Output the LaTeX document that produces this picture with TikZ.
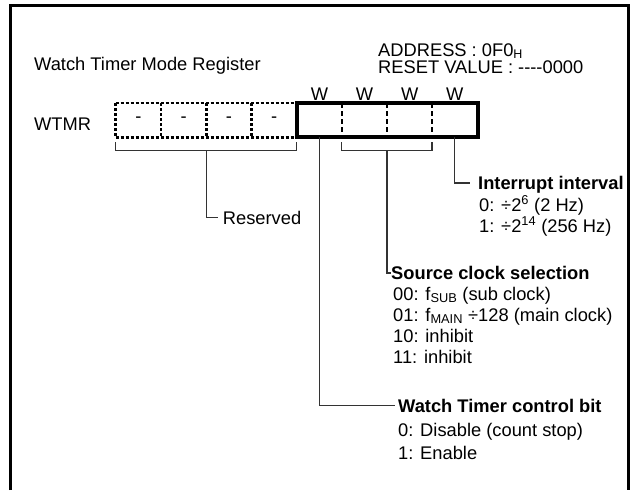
\documentclass[tikz,border=0pt]{standalone}
\usepackage{fontspec}
\setmainfont{Liberation Sans}
\usetikzlibrary{calc}
\begin{document}
\begin{tikzpicture}[x=1pt,y=-1pt,
  txt/.style={font=\fontsize{18.3}{20}\selectfont, inner sep=0pt, text height=13.2pt, text depth=0pt, anchor=base west},
  btxt/.style={txt, font=\fontsize{18.3}{20}\selectfont\bfseries},
  conn/.style={draw=black!80, line width=1.3pt},
  cell/.style={minimum width=45.2pt, minimum height=34pt, inner sep=0pt, anchor=north west, font=\fontsize{18.3}{20}\selectfont},
  dotline/.style={line width=2.6pt, dash pattern=on 3pt off 2pt},
  dashline/.style={line width=2.4pt, dash pattern=on 5pt off 3pt},
  boldbox/.style={line width=4pt}]
\useasboundingbox (0,0) rectangle (634,490);
% frame (open at bottom)
\draw[line width=3pt] (10.5,490) -- (10.5,5) -- (628.5,5) -- (628.5,490);

% header texts
\node[txt] (title) at (34,70) {Watch Timer Mode Register};
\node[txt] (addr) at (378,56.5) {ADDRESS : 0F0\raisebox{-2pt}{\fontsize{12.5}{13}\selectfont H}};
\node[txt] (reset) at (378,73) {RESET VALUE : -{}-{}-{}-0000};
\node[txt] (wtmr) at (34,130) {WTMR};

% register cells
\node[cell] (c0) at (115.7,103) {-};
\node[cell] (c1) at (160.95,103) {-};
\node[cell] (c2) at (206.2,103) {-};
\node[cell] (c3) at (251.45,103) {-};
\node[cell] (c4) at (296.7,103) {};
\node[cell] (c5) at (341.8,103) {};
\node[cell] (c6) at (386.9,103) {};
\node[cell] (c7) at (432.0,103) {};

% dotted reserved part
\draw[dotline] (c0.north west) -- (c4.north west);
\draw[dotline] (c0.south west) -- (c4.south west);
\draw[dotline] (c0.north west) -- (c0.south west);
\draw[dotline] (c1.north west) -- (c1.south west);
\draw[dotline] (c2.north west) -- (c2.south west);
\draw[dotline] (c3.north west) -- (c3.south west);
% bold part
\draw[boldbox] (c4.north west) rectangle (c7.south east);
\draw[dashline] (c5.north west) -- (c5.south west);
\draw[dashline] (c6.north west) -- (c6.south west);
\draw[dashline] (c7.north west) -- (c7.south west);

% W labels
\coordinate (wl) at (0,100);
\node[txt, anchor=base] (w4) at (c4.center |- wl) {W};
\node[txt, anchor=base] (w5) at (c5.center |- wl) {W};
\node[txt, anchor=base] (w6) at (c6.center |- wl) {W};
\node[txt, anchor=base] (w7) at (c7.center |- wl) {W};

% brackets
\coordinate (bry) at (0,150.7);
\coordinate (brt) at (0,142);
\draw[conn] (c0.south west |- brt) -- (c0.south west |- bry) -- (c4.south west |- bry) -- (c4.south west |- brt);
\draw[conn] (c5.south west |- brt) -- (c5.south west |- bry) -- (c7.south west |- bry) -- (c7.south west |- brt);
\coordinate (resstem) at ($(c0.south west |- bry)!0.5!(c4.south west |- bry)$);
\coordinate (srcstem) at ($(c5.south west |- bry)!0.5!(c7.south west |- bry)$);

% Reserved
\node[txt, inner xsep=4.5pt] (res) at (218.2,224) {Reserved};
\draw[conn] (resstem) |- (res.west);

% Interrupt interval
\node[btxt, inner xsep=8pt] (intr) at (470,189.5) {Interrupt interval};
\node[txt] (intr0) at (479,211) {0: ÷2\textsuperscript{6} (2 Hz)};
\node[txt] (intr1) at (479,232) {1: ÷2\textsuperscript{14} (256 Hz)};
\draw[conn] (c7.south) |- (intr.west);

% Source clock selection
\node[btxt, inner xsep=0.5pt] (src) at (390.5,279.5) {Source clock selection};
\node[txt] (src0) at (393,300) {00: f\textsubscript{SUB} (sub clock)};
\node[txt] (src1) at (393,321) {01: f\textsubscript{MAIN} ÷128 (main clock)};
\node[txt] (src2) at (393,342) {10: inhibit};
\node[txt] (src3) at (393,363) {11: inhibit};
\draw[conn] (srcstem) |- (src.west);

% Watch Timer control bit
\node[btxt, inner xsep=3pt] (ctl) at (395,412) {Watch Timer control bit};
\node[txt] (ctl0) at (398,436) {0: Disable (count stop)};
\node[txt] (ctl1) at (398,459) {1: Enable};
\draw[conn] (c4.south) |- (ctl.west);
\end{tikzpicture}
\end{document}
